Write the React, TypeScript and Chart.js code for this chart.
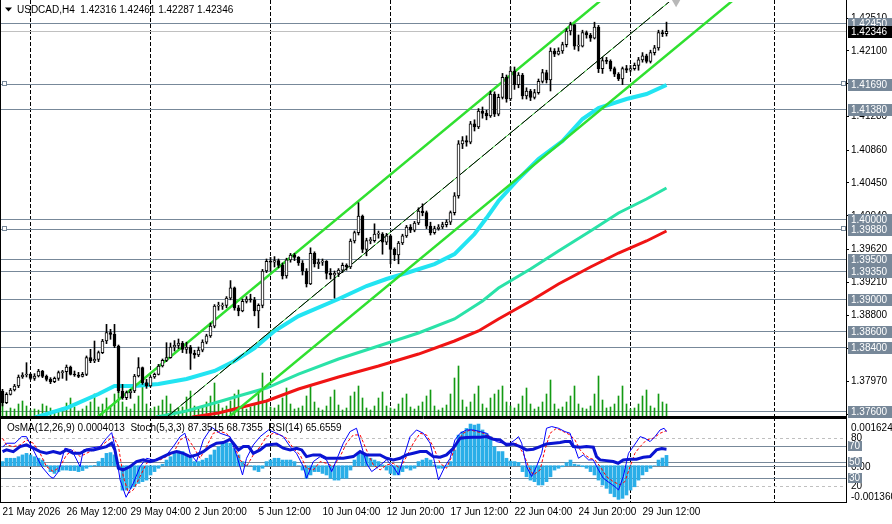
import React, { useEffect, useRef } from 'react';
import { Chart, registerables } from 'chart.js';

Chart.register(...registerables);

const FONT = "'Liberation Sans', Arial, sans-serif";

// ---------- header text ----------
const symbolTitle = 'USDCAD,H4';
const lastOHLC = ['1.42316', '1.42461', '1.42287', '1.42346'];
const oscTitle = 'OsMA(12,26,9) 0.0004013  Stoch(5,3,3) 87.3515 68.7355  RSI(14) 65.6559';

// ---------- price data (H4 bars, bar 0 = 21 May 20:00) ----------
const firstOpen = 1.3785;
const closes = [
  1.37704, 1.37808, 1.37862, 1.37913, 1.38025, 1.3805, 1.38058, 1.38008, 1.38037, 1.381,
  1.38033, 1.37996, 1.37967, 1.38008, 1.38079, 1.38092, 1.3815, 1.38058, 1.3805, 1.38033,
  1.38058, 1.38267, 1.38225, 1.38246, 1.38329, 1.38475, 1.38579, 1.38558, 1.38412, 1.3785,
  1.37767, 1.37829, 1.3785, 1.38037, 1.38142, 1.37954, 1.37913, 1.38025, 1.38058, 1.38162,
  1.38233, 1.38267, 1.384, 1.3842, 1.3845, 1.3837, 1.384, 1.3832, 1.383, 1.3836,
  1.3846, 1.3854, 1.3866, 1.3891, 1.3891, 1.3892, 1.3901, 1.3914, 1.3889, 1.3885,
  1.3897, 1.39, 1.3899, 1.3885, 1.3892, 1.3935, 1.3947, 1.3946, 1.3948, 1.3942,
  1.3929, 1.3949, 1.3955, 1.3952, 1.3945, 1.3935, 1.3919, 1.3957, 1.3944, 1.3946,
  1.3947, 1.3932, 1.393, 1.3932, 1.3936, 1.3942, 1.394, 1.39725, 1.3983, 1.40037,
  1.3962, 1.3973, 1.3973, 1.3981, 1.3981, 1.3971, 1.3979, 1.3962, 1.3955, 1.397,
  1.3979, 1.399, 1.3986, 1.3995, 1.401, 1.4008, 1.3991, 1.3983, 1.3988, 1.399,
  1.3993, 1.3996, 1.4008, 1.4029, 1.4094, 1.4098, 1.4096, 1.4119, 1.4115, 1.4135,
  1.4132, 1.4129, 1.4156, 1.4131, 1.4152, 1.4177, 1.415, 1.4185, 1.4168, 1.418,
  1.4154, 1.416, 1.4152, 1.4158, 1.4172, 1.4183, 1.4174, 1.421, 1.4206, 1.421,
  1.4218, 1.4235, 1.4243, 1.4216, 1.4216, 1.4233, 1.423, 1.4226, 1.424, 1.4188,
  1.4198, 1.4197, 1.4188, 1.4181, 1.4175, 1.4188, 1.4186, 1.4188, 1.4192, 1.4199,
  1.4204, 1.4197, 1.4208, 1.4214, 1.4233, 1.42316, 1.42346,
];
const highs = [
  1.37871, 1.37829, 1.37883, 1.37933, 1.3805, 1.38079, 1.38204, 1.38067, 1.38067, 1.38121,
  1.38108, 1.3805, 1.38017, 1.38025, 1.381, 1.38108, 1.38175, 1.38162, 1.381, 1.38083,
  1.38083, 1.38288, 1.38371, 1.38475, 1.3835, 1.38496, 1.38683, 1.38621, 1.38683, 1.38425,
  1.37933, 1.3785, 1.37871, 1.38058, 1.38267, 1.3815, 1.37996, 1.38037, 1.38075, 1.38183,
  1.3825, 1.38454, 1.3845, 1.3848, 1.385, 1.3847, 1.3846, 1.3842, 1.3836, 1.384,
  1.3849, 1.3856, 1.387, 1.3893, 1.3896, 1.3895, 1.3903, 1.3923, 1.3915, 1.3892,
  1.39, 1.3903, 1.3906, 1.3902, 1.3894, 1.3937, 1.395, 1.3952, 1.3953, 1.395,
  1.3945, 1.3951, 1.3957, 1.3957, 1.3953, 1.3948, 1.3938, 1.3964, 1.3959, 1.395,
  1.395, 1.3948, 1.3938, 1.3935, 1.3938, 1.3945, 1.3944, 1.3975, 1.3985, 1.40204,
  1.4005, 1.3976, 1.3977, 1.3994, 1.3985, 1.3983, 1.3982, 1.398, 1.3964, 1.3972,
  1.3981, 1.3992, 1.3993, 1.3997, 1.4014, 1.4019, 1.401, 1.3996, 1.3991, 1.3993,
  1.3996, 1.3999, 1.401, 1.4033, 1.4098, 1.4103, 1.4104, 1.4122, 1.4124, 1.4138,
  1.414, 1.4136, 1.416, 1.4159, 1.4156, 1.4182, 1.418, 1.419, 1.419, 1.4183,
  1.4182, 1.4164, 1.4162, 1.4162, 1.4175, 1.4187, 1.4186, 1.4214, 1.4213, 1.4214,
  1.4221, 1.4238, 1.4246, 1.424, 1.423, 1.4236, 1.4235, 1.4232, 1.4246, 1.4242,
  1.4202, 1.4202, 1.4199, 1.419, 1.4183, 1.419, 1.4192, 1.4192, 1.4195, 1.4202,
  1.4208, 1.4206, 1.4211, 1.4217, 1.4236, 1.4236, 1.42461,
];
const lows = [
  1.37663, 1.37692, 1.378, 1.3785, 1.37892, 1.38008, 1.38025, 1.37992, 1.37983, 1.38025,
  1.38017, 1.37975, 1.37942, 1.37954, 1.37983, 1.38008, 1.37983, 1.3805, 1.38033, 1.38017,
  1.38025, 1.38042, 1.38204, 1.38204, 1.38217, 1.38317, 1.38442, 1.38496, 1.38392, 1.37829,
  1.37746, 1.37742, 1.37758, 1.37829, 1.38025, 1.37933, 1.37883, 1.379, 1.38008, 1.3805,
  1.3815, 1.38217, 1.3826, 1.3835, 1.3838, 1.3833, 1.3832, 1.3812, 1.3826, 1.3828,
  1.3834, 1.3844, 1.3852, 1.3864, 1.3886, 1.3887, 1.3889, 1.3899, 1.3886, 1.3879,
  1.3884, 1.3895, 1.3896, 1.3879, 1.3864, 1.3889, 1.3933, 1.3935, 1.394, 1.3939,
  1.3925, 1.3926, 1.3946, 1.3948, 1.3942, 1.393, 1.3915, 1.3918, 1.394, 1.3938,
  1.3942, 1.3925, 1.3925, 1.3901, 1.3928, 1.3933, 1.3936, 1.3938, 1.397, 1.398,
  1.3958, 1.3954, 1.3969, 1.3971, 1.3976, 1.3956, 1.3968, 1.3944, 1.3948, 1.3944,
  1.3968, 1.3977, 1.3983, 1.3984, 1.3993, 1.4004, 1.3988, 1.398, 1.3981, 1.3986,
  1.3988, 1.399, 1.3993, 1.4005, 1.4026, 1.4088, 1.4091, 1.4094, 1.411, 1.4113,
  1.4126, 1.4124, 1.4127, 1.4128, 1.4129, 1.415, 1.4146, 1.4148, 1.4162, 1.4164,
  1.415, 1.415, 1.4148, 1.415, 1.4156, 1.417, 1.417, 1.416, 1.4203, 1.4205,
  1.4207, 1.4215, 1.423, 1.4212, 1.421, 1.4215, 1.4226, 1.4222, 1.4225, 1.4183,
  1.4182, 1.4194, 1.4185, 1.4178, 1.4173, 1.4168, 1.4183, 1.4184, 1.4186, 1.4186,
  1.4196, 1.4195, 1.4195, 1.4205, 1.4211, 1.4228, 1.42287,
];
const volumes = [
  14, 5, 8, 7, 12, 15, 10, 6, 7, 6, 12, 10, 8, 5, 6, 8, 13, 18, 9, 5,
  7, 10, 14, 22, 9, 12, 18, 10, 22, 28, 14, 9, 7, 12, 20, 31, 12, 7, 9, 10,
  16, 20, 12, 6, 8, 9, 19, 25, 10, 7, 9, 14, 20, 33, 12, 8, 10, 15, 22, 26,
  10, 7, 9, 12, 24, 43, 14, 9, 8, 11, 18, 28, 12, 7, 8, 10, 20, 31, 14, 8,
  6, 10, 19, 26, 11, 6, 8, 20, 24, 30, 18, 8, 6, 10, 18, 24, 10, 8, 7, 12,
  18, 22, 9, 7, 10, 14, 20, 26, 10, 6, 8, 11, 22, 38, 50, 16, 9, 14, 22, 30,
  12, 8, 18, 22, 26, 30, 14, 10, 8, 12, 20, 28, 12, 7, 9, 14, 22, 36, 12, 7,
  9, 14, 20, 30, 12, 8, 7, 10, 22, 40, 16, 8, 9, 12, 20, 30, 12, 7, 8, 12,
  20, 26, 10, 8, 22, 14, 12,
];

// moving averages: [bar, price]
const cyanMA = [
  [5, 1.3745], [8, 1.37517], [16, 1.37637], [24, 1.37812], [28, 1.37912], [33, 1.37912], [39, 1.37937],
  [46, 1.38], [53, 1.381], [58, 1.38225], [63, 1.38387], [68, 1.386], [74, 1.38787], [84, 1.39],
  [91, 1.39162], [96, 1.3925], [101, 1.39325], [108, 1.39437], [113, 1.39562], [118, 1.39812],
  [121, 1.40012], [124, 1.40225], [129, 1.405], [134, 1.4075], [140, 1.40975], [145, 1.4125],
  [149, 1.41387], [156, 1.415], [161, 1.41562], [166, 1.41675],
];
const tealMA = [
  [36, 1.3745], [38.6, 1.37525], [46, 1.376], [53, 1.377], [59, 1.37787], [66, 1.37887], [74, 1.38062],
  [84, 1.3825], [94, 1.38412], [104, 1.38575], [113, 1.3875], [120, 1.38975], [124, 1.39137],
  [132, 1.39375], [139, 1.396], [147, 1.3985], [154, 1.40075], [161, 1.4025], [166, 1.40387],
];
const redMA = [
  [45, 1.3745], [47.6, 1.37525], [54, 1.37575], [59, 1.37637], [66, 1.37725], [74, 1.37875], [84, 1.38025],
  [94, 1.38162], [104, 1.38312], [113, 1.38475], [119, 1.386], [124, 1.3875], [132, 1.38975],
  [139, 1.39187], [147, 1.394], [154, 1.39575], [161, 1.39725], [166, 1.3985],
];

// channel objects: [bar, price] anchors
const channelUpper = [[20, 1.37368], [155, 1.42957]];
const channelMiddle = [[38, 1.37397], [172, 1.42935]];
const channelLower = [[52, 1.37335], [188, 1.42956]];
const channelMarker = [[168.4, 1.4271]];

// price axis
const priceTicks = [1.4251, 1.421, 1.4169, 1.4128, 1.4086, 1.4045, 1.4004, 1.3962, 1.3921, 1.388, 1.3838, 1.3797, 1.3756];
const levelLines = [1.4245, 1.4169, 1.4138, 1.4, 1.3988, 1.395, 1.3935, 1.39, 1.386, 1.384, 1.376];
const markedLevels = [1.4169, 1.3988];
const bidPrice = 1.42346;

// time axis
const timeTickBars = [0, 16, 32, 48, 64, 80, 96, 112, 128, 144, 160];
const timeLabels = ['21 May 2026', '26 May 12:00', '29 May 04:00', '2 Jun 20:00', '5 Jun 12:00', '10 Jun 04:00',
  '12 Jun 20:00', '17 Jun 12:00', '22 Jun 04:00', '24 Jun 20:00', '29 Jun 12:00'];
const gridBars = [7, 37, 67, 97, 127, 157, 193];

// ---------- oscillators ----------
const osma = [
  0.00016, 0.00029, 0.00029, 0.00029, 0.00035, 0.00042, 0.00048, 0.00042, 0.00035, 0.00029,
  0.00022, 0.00002, -0.00023, -0.0003, -0.00023, -0.00017, -0.00017, -0.00019, -0.00019, -0.00023,
  -0.00019, -0.0001, -0.00004, 0.00001, 0.00016, 0.00029, 0.00048, 0.00051, 0.00042, -0.0001,
  -0.00095, -0.00095, -0.00088, -0.00082, -0.00069, -0.00062, -0.00056, -0.00036, -0.00023, -0.0001,
  0.00006, 0.00022, 0.00035, 0.00048, 0.00058, 0.00055, 0.00042, 0.00029, 0.00016, 0.00016,
  0.00022, 0.00029, 0.00042, 0.00061, 0.00074, 0.00087, 0.0009, 0.00087, 0.00067, 0.00042,
  0.00016, 0.00003, 0.0, -0.00017, -0.00023, -0.0001, 0.00016, 0.00022, 0.00029, 0.00029,
  0.00022, 0.00022, 0.00022, 0.00016, 0.0, -0.00017, -0.00049, -0.00036, -0.00023, -0.00023,
  -0.0003, -0.00036, -0.00049, -0.00056, -0.00056, -0.00049, -0.00049, -0.00017, 0.00022, 0.00051,
  0.00048, 0.00042, 0.00029, 0.00022, 0.00016, 0.00003, -0.00017, -0.0003, -0.00036, -0.00036,
  -0.00023, -0.0001, -0.00017, -0.0001, 0.00016, 0.00022, 0.00029, 0.00022, 0.00003, -0.0001,
  -0.0001, -0.00004, 0.00016, 0.00061, 0.00119, 0.00132, 0.00145, 0.00162, 0.00158, 0.00162,
  0.00139, 0.00126, 0.00113, 0.00074, 0.00055, 0.00055, 0.00029, 0.00018, 0.00016, 0.00013,
  -0.00023, -0.00043, -0.00056, -0.00062, -0.00075, -0.00075, -0.00062, -0.00043, -0.00017, -0.0001,
  -0.00004, 0.00012, 0.00022, 0.00006, 0.00003, -0.00004, -0.0001, -0.00023, -0.00036, -0.00056,
  -0.00075, -0.00088, -0.00108, -0.00121, -0.00131, -0.00127, -0.00114, -0.00095, -0.00082, -0.00056,
  -0.00036, -0.00023, -0.0001, 0.0, 0.00022, 0.0003, 0.0004013,
];
const stochMain = [
  [0, 68], [1, 73], [3.1, 73], [4.8, 81.2], [6, 81.2], [7.7, 64.7], [9.8, 44], [11.9, 31.6], [12.7, 29.5], [14, 37.8],
  [15.6, 66.8], [17.3, 64.7], [19.4, 44], [20.2, 64.7], [21.9, 66.8], [24.4, 68.8], [26, 79.2], [27.3, 86.2], [28.1, 68.8],
  [29.4, 27.4], [30.9, 5.9], [32.7, 23.3], [34.4, 44], [36, 54.3], [37.7, 52.3], [39.4, 54.3], [41, 58.5], [42.7, 68.8],
  [44.4, 81.2], [45.6, 85.4], [46.9, 60.5], [48.5, 50.2], [50.2, 77.1], [52.3, 92.8], [54.4, 85.4], [56.9, 81.2],
  [58.5, 58.5], [60, 33.6], [61, 54.3], [62.7, 70.9], [64.4, 81.2], [66.5, 89.5], [68.5, 85.4], [70.2, 81.2],
  [71.9, 68.8], [73.5, 60.5], [75.2, 44], [76, 29.5], [77.7, 50.2], [79.4, 56.4], [81, 52.3], [82.3, 37.8],
  [83.5, 52.3], [85.2, 73], [86.9, 87.5], [88.5, 91.6], [89.8, 68.8], [91, 48.1], [92.3, 37.8], [94, 44],
  [96, 52.3], [97.7, 44], [99, 33.6], [100.2, 54.3], [101.9, 81.2], [103.5, 89.5], [105.2, 85.4], [106.9, 73],
  [107.7, 56.4], [109, 27.4], [110.6, 44], [111.9, 54.3], [113.1, 77.1], [114.4, 85.4], [116, 89.5], [117.7, 89.5],
  [119.4, 87.5], [121, 85.4], [122.3, 79.2], [123.5, 75], [125.2, 73], [126.9, 73], [128.1, 77.1], [129, 81.2],
  [129.8, 73], [131, 44], [132.3, 31.6], [133.5, 44], [134.8, 60.5], [136, 91.6], [137.3, 93.7], [139, 91.6],
  [140.6, 87.5], [141.9, 85.4], [142.7, 73], [144, 54.3], [145.2, 58.5], [146.5, 52.3], [147.7, 52.3], [149, 39.8],
  [150.2, 29.5], [151.9, 23.3], [153.1, 19.1], [154, 15], [155.2, 31.6], [156.5, 60.5], [157.7, 68.8], [159.4, 81.2],
  [160.6, 79.2], [161.9, 75], [163.1, 81.2], [164.4, 89.5], [165.4, 91.6], [166, 87.35],
];
const stochSignal = [
  [0, 79.2], [1, 70.9], [2.7, 68.8], [4.4, 70.9], [6, 77.1], [7.7, 73], [9.4, 60.5], [11, 44], [12.7, 37.8], [14.4, 44],
  [16, 58.5], [17.7, 64.7], [19.4, 56.4], [21, 60.5], [22.7, 64.7], [24.4, 68.8], [26, 75], [27.7, 81.2], [29, 68.8],
  [30.2, 31.6], [31.5, 10.9], [32.7, 15], [34.4, 31.6], [36, 48.1], [37.7, 52.3], [39.4, 52.3], [41, 56.4], [42.7, 60.5],
  [44.4, 77.1], [46, 81.2], [47.7, 68.8], [49.4, 54.3], [51, 68.8], [52.7, 85.4], [54.4, 87.5], [56, 85.4], [57.7, 73],
  [59.4, 52.3], [61, 44], [62.7, 58.5], [64.4, 68.8], [66, 81.2], [67.7, 85.4], [69.4, 83.3], [71, 79.2], [72.7, 66.8],
  [74.4, 58.5], [76, 41.9], [77.7, 39.8], [79.4, 50.2], [81, 48.1], [82.7, 44], [84.4, 56.4], [86, 73], [87.7, 83.3],
  [89.4, 83.3], [91, 64.7], [92.7, 46], [94.4, 39.8], [96, 46], [97.7, 48.1], [99.4, 41.9], [101, 56.4], [102.7, 73],
  [104.4, 85.4], [106, 83.3], [107.7, 68.8], [109.4, 48.1], [111, 41.9], [112.3, 56.4], [113.5, 73], [115.2, 85.4],
  [116.9, 89.5], [118.5, 87.5], [120.2, 85.4], [121.9, 81.2], [123.5, 77.1], [125.2, 73], [126.9, 70.9], [128.5, 73],
  [130.2, 60.5], [131.5, 44], [132.7, 33.6], [134.4, 39.8], [135.6, 64.7], [136.9, 85.4], [138.5, 91.6], [140.2, 87.5],
  [141.9, 83.3], [143.1, 77.1], [144.4, 64.7], [145.6, 58.5], [146.9, 54.3], [148.1, 52.3], [149.4, 44], [151, 31.6],
  [152.7, 25.3], [154.4, 21.2], [155.6, 25.3], [156.9, 44], [158.1, 60.5], [159.4, 68.8], [161, 77.1], [162.7, 79.2],
  [164.4, 85.4], [166, 88.7],
];
const rsi = [
  [0, 62.6], [1, 64.7], [2.7, 62.6], [4.4, 68.8], [6, 70.9], [7.7, 66.8], [9.4, 62.6], [11, 60.5], [12.7, 62.6],
  [14.4, 60.5], [16, 64.7], [17.7, 60.5], [19.4, 60.5], [21, 64.7], [22.7, 64.7], [24.4, 66.8], [26, 68.8], [27.3, 73],
  [28.1, 64.7], [29, 41.9], [30.2, 39.8], [31.9, 44], [33.5, 50.2], [35.2, 52.3], [36.9, 50.2], [38.5, 52.3],
  [40.2, 56.4], [41.9, 60.5], [43.5, 62.6], [45.2, 60.5], [46.9, 56.4], [48.5, 58.5], [50.2, 62.6], [51.9, 68.8],
  [53.5, 73], [55.2, 73.8], [56.9, 77.9], [57.7, 73], [59, 64.7], [60.2, 68.8], [61.5, 68.8], [62.7, 60.5],
  [64.4, 64.7], [66, 70.9], [68.5, 72.1], [70.2, 66.8], [71.9, 64.7], [73.5, 66.8], [74.8, 64.7], [76, 56.4],
  [77.7, 58.5], [79.4, 58.5], [81, 54.3], [82.7, 54.3], [85.2, 54.3], [87.7, 56.4], [89.4, 62.6], [91, 58.5],
  [92.7, 58.5], [94.4, 58.5], [96, 54.3], [97.7, 52.3], [99.4, 54.3], [101, 58.5], [102.7, 60.5], [104.4, 62.6],
  [106, 62.6], [107.7, 56.4], [109.4, 55.6], [111, 58.5], [112.7, 66.8], [114.4, 79.2], [116, 80], [117.7, 80.4],
  [119.4, 80.4], [121, 81.2], [122.7, 77.9], [124.4, 77.1], [126, 70.9], [127.7, 72.1], [129.4, 68.8], [131, 64.7],
  [132.7, 65.5], [134.4, 68.8], [136, 72.1], [137.7, 73], [139.4, 73.8], [140.6, 75], [141.9, 75], [142.7, 68.8],
  [144.4, 68], [146, 68.8], [147.7, 68], [148.5, 56.4], [149.4, 52.3], [151, 51.4], [152.7, 50.2], [153.9, 48.1],
  [155.2, 52.3], [156.9, 53.1], [158.5, 53.1], [160.2, 55.6], [161.9, 56.4], [163.5, 64.7], [164.8, 66.3], [166, 65.66],
];
const stochLevels = [80, 20];
const rsiLevels = [70, 50, 30];
const osmaMaxLabel = '0.0016241';
const osmaMinLabel = '-0.001360';
const osmaZeroLabel = '0.00';

// ---------- geometry of the scales ----------
const X_MIN = -0.625;
const X_MAX = 210.875;
const Y_MIN = 1.375375;
const Y_MAX = 1.427125;

const LEVEL_COLOR = '#778899';

const pts = (arr: number[][]) => arr.map(([x, y]) => ({ x, y }));

function drawVGrid(chart: any) {
  const { ctx, chartArea, scales } = chart;
  ctx.save();
  ctx.strokeStyle = '#000';
  ctx.lineWidth = 1;
  ctx.setLineDash([4, 2]);
  gridBars.forEach((b) => {
    const x = Math.floor(scales.x.getPixelForValue(b)) + 0.5;
    ctx.beginPath();
    ctx.moveTo(x, chartArea.top - 2);
    ctx.lineTo(x, chartArea.bottom);
    ctx.stroke();
  });
  ctx.restore();
}

const mainPlugin = {
  id: 'mainDecor',
  beforeDatasetsDraw(chart: any) {
    const { ctx, chartArea, scales } = chart;
    drawVGrid(chart);
    ctx.save();
    ctx.lineWidth = 1;
    levelLines.forEach((v) => {
      const y = Math.round(scales.y.getPixelForValue(v)) + 0.5;
      ctx.strokeStyle = LEVEL_COLOR;
      ctx.beginPath();
      ctx.moveTo(0, y);
      ctx.lineTo(chartArea.right, y);
      ctx.stroke();
    });
    const by = Math.round(scales.y.getPixelForValue(bidPrice)) + 0.5;
    ctx.strokeStyle = '#c0c0c0';
    ctx.beginPath();
    ctx.moveTo(0, by);
    ctx.lineTo(chartArea.right, by);
    ctx.stroke();
    ctx.restore();
  },
  afterDraw(chart: any) {
    const { ctx, chartArea, scales } = chart;
    ctx.save();
    // frame
    ctx.strokeStyle = '#000';
    ctx.lineWidth = 1;
    ctx.beginPath();
    ctx.moveTo(0.5, 0);
    ctx.lineTo(0.5, 418);
    ctx.moveTo(chartArea.right + 0.5, 0);
    ctx.lineTo(chartArea.right + 0.5, 418);
    ctx.moveTo(0, chartArea.bottom + 0.5);
    ctx.lineTo(chartArea.right + 1, chartArea.bottom + 0.5);
    ctx.moveTo(0, chartArea.bottom + 1.5);
    ctx.lineTo(chartArea.right + 1, chartArea.bottom + 1.5);
    ctx.stroke();

    // object anchor squares
    markedLevels.forEach((v) => {
      const y = Math.round(scales.y.getPixelForValue(v));
      [2, chartArea.right - 5].forEach((x) => {
        ctx.fillStyle = '#fff';
        ctx.fillRect(x, y - 2, 4, 4);
        ctx.strokeStyle = LEVEL_COLOR;
        ctx.strokeRect(x + 0.5, y - 2.5, 4, 4);
      });
    });

    // price labels
    ctx.font = `10px ${FONT}`;
    ctx.textBaseline = 'middle';
    ctx.textAlign = 'left';
    const box = (v: number, bg: string) => {
      const y = Math.round(scales.y.getPixelForValue(v));
      ctx.fillStyle = bg;
      ctx.fillRect(chartArea.right + 2, y - 5, 892 - chartArea.right - 2, 12);
      ctx.fillStyle = '#fff';
      ctx.fillText(v.toFixed(5), chartArea.right + 5, y + 1.5);
    };
    levelLines.forEach((v) => box(v, LEVEL_COLOR));
    box(bidPrice, '#000');

    // title
    ctx.fillStyle = '#000';
    ctx.beginPath();
    ctx.moveTo(5, 7.5);
    ctx.lineTo(12, 7.5);
    ctx.lineTo(8.5, 11.5);
    ctx.closePath();
    ctx.fill();
    ctx.fillText(`${symbolTitle}  ${lastOHLC.join(' ')}`, 17, 10);
    ctx.restore();
  },
};

const oscPlugin = {
  id: 'oscDecor',
  beforeDatasetsDraw(chart: any) {
    const { ctx, chartArea, scales } = chart;
    drawVGrid(chart);
    ctx.save();
    ctx.lineWidth = 1;
    ctx.strokeStyle = '#c0c0c0';
    ctx.setLineDash([3, 3]);
    stochLevels.forEach((v) => {
      const y = Math.round(scales.yS.getPixelForValue(v)) + 0.5;
      ctx.beginPath();
      ctx.moveTo(0, y);
      ctx.lineTo(chartArea.right, y);
      ctx.stroke();
    });
    ctx.setLineDash([]);
    ctx.strokeStyle = LEVEL_COLOR;
    rsiLevels.forEach((v) => {
      const y = Math.round(scales.yS.getPixelForValue(v)) + 0.5;
      ctx.beginPath();
      ctx.moveTo(0, y);
      ctx.lineTo(chartArea.right, y);
      ctx.stroke();
    });
    const zy = Math.round(scales.yO.getPixelForValue(0)) + 0.5;
    ctx.beginPath();
    ctx.moveTo(0, zy);
    ctx.lineTo(chartArea.right, zy);
    ctx.stroke();
    ctx.restore();
  },
  afterDraw(chart: any) {
    const { ctx, chartArea, scales } = chart;
    ctx.save();
    ctx.strokeStyle = '#000';
    ctx.lineWidth = 1;
    ctx.beginPath();
    ctx.moveTo(0.5, 0);
    ctx.lineTo(0.5, chartArea.bottom + 1);
    ctx.moveTo(chartArea.right + 0.5, 0);
    ctx.lineTo(chartArea.right + 0.5, chartArea.bottom + 1);
    ctx.moveTo(0, 0.5);
    ctx.lineTo(chartArea.right + 1, 0.5);
    ctx.moveTo(0, chartArea.bottom + 0.5);
    ctx.lineTo(chartArea.right + 1, chartArea.bottom + 0.5);
    ctx.stroke();

    ctx.font = `10px ${FONT}`;
    ctx.textBaseline = 'middle';
    ctx.textAlign = 'left';
    const lx = chartArea.right + 5;
    ctx.fillStyle = '#000';
    ctx.fillText(oscTitle, 7, 10.5);
    ctx.fillText(osmaMaxLabel, lx, chartArea.top + 9);
    ctx.fillText(osmaMinLabel, lx, chartArea.bottom - 5);
    stochLevels.forEach((v) => {
      ctx.fillText(String(v), lx, Math.round(scales.yS.getPixelForValue(v)) + 0.5);
    });
    ctx.fillText(osmaZeroLabel, lx, Math.round(scales.yO.getPixelForValue(0)) + 1);
    rsiLevels.forEach((v) => {
      const y = Math.round(scales.yS.getPixelForValue(v));
      ctx.fillStyle = LEVEL_COLOR;
      ctx.fillRect(chartArea.right + 2, y - 5, 14, 10);
      ctx.fillStyle = '#fff';
      ctx.fillText(String(v), chartArea.right + 3, y + 0.5);
    });
    ctx.restore();
  },
};

function mainConfig(): any {
  const idx = closes.map((_, i) => i);
  const opens = closes.map((c, i) => (i === 0 ? firstOpen : closes[i - 1]));
  const line = (data: number[][], color: string, width: number, order: number, extra: any = {}) => ({
    type: 'line', data: pts(data), borderColor: color, borderWidth: width, pointRadius: 0,
    tension: 0, clip: 0, order, yAxisID: 'y', ...extra,
  });
  return {
    type: 'bar',
    data: {
      datasets: [
        {
          type: 'bar', label: 'body', order: 0, yAxisID: 'y', grouped: false,
          data: idx.map((i) => ({ x: i, y: [opens[i], closes[i]] })),
          backgroundColor: idx.map((i) => (closes[i] >= opens[i] ? '#ffffff' : '#000000')),
          borderColor: '#000', borderWidth: 1, borderSkipped: false, barThickness: 3, minBarLength: 1,
        },
        {
          type: 'bar', label: 'wick', order: 1, yAxisID: 'y', grouped: false,
          data: idx.map((i) => ({
            x: i,
            y: [Math.min(lows[i], opens[i], closes[i]), Math.max(highs[i], opens[i], closes[i])],
          })),
          backgroundColor: '#000', borderWidth: 0, barThickness: 1,
        },
        line(channelUpper, '#30e030', 2.5, 2),
        line(channelLower, '#30e030', 2.5, 2),
        line(channelMiddle, '#000000', 1, 2, { borderDash: [14, 3] }),
        line(channelMiddle, '#30d030', 1, 2.5),
        {
          type: 'line', data: pts(channelMarker), showLine: false, pointStyle: 'triangle', rotation: 180,
          pointRadius: 5, pointBackgroundColor: '#b8b8b8', pointBorderColor: '#b8b8b8', pointBorderWidth: 0,
          clip: false, order: 2, yAxisID: 'y',
        },
        line(cyanMA, '#22e4f2', 4, 3),
        line(tealMA, '#2ae2a8', 3, 3),
        line(redMA, '#f01414', 3, 3),
        {
          type: 'bar', label: 'volume', order: 5, yAxisID: 'v', grouped: false,
          data: idx.map((i) => ({ x: i, y: volumes[i] })),
          backgroundColor: '#139a13', barThickness: 1,
        },
      ],
    },
    options: {
      responsive: false, animation: false, devicePixelRatio: 1, events: [],
      layout: { autoPadding: false, padding: { left: 0, right: 0, top: 2, bottom: 2 } },
      plugins: { legend: { display: false }, tooltip: { enabled: false } },
      scales: {
        x: { type: 'linear', min: X_MIN, max: X_MAX, offset: false, display: false },
        y: {
          type: 'linear', position: 'right', min: Y_MIN, max: Y_MAX,
          afterBuildTicks: (s: any) => { s.ticks = priceTicks.map((v) => ({ value: v })); },
          afterFit: (s: any) => { s.width = 46; s.paddingTop = 0; s.paddingBottom = 0; },
          ticks: {
            autoSkip: false, padding: 2, color: '#000', font: { family: FONT, size: 10 },
            callback: (v: any) => Number(v).toFixed(5),
          },
          grid: { drawOnChartArea: false, drawTicks: true, tickLength: 3, color: '#000' },
          border: { display: true, color: '#000' },
        },
        v: { type: 'linear', min: 0, max: 414, display: false },
      },
    },
    plugins: [mainPlugin],
  };
}

function oscConfig(): any {
  const idx = osma.map((_, i) => i);
  return {
    type: 'bar',
    data: {
      datasets: [
        {
          type: 'bar', label: 'OsMA', order: 3, yAxisID: 'yO', grouped: false,
          data: idx.map((i) => ({ x: i, y: osma[i] })),
          backgroundColor: '#2aaee8', barThickness: 3,
        },
        {
          type: 'line', label: 'Signal', order: 2, yAxisID: 'yS', data: pts(stochSignal),
          borderColor: '#ff0000', borderWidth: 1, borderDash: [3, 2], pointRadius: 0, tension: 0, clip: 0,
        },
        {
          type: 'line', label: 'Stoch', order: 1, yAxisID: 'yS', data: pts(stochMain),
          borderColor: '#0000ff', borderWidth: 1, pointRadius: 0, tension: 0, clip: 0,
        },
        {
          type: 'line', label: 'RSI', order: 0, yAxisID: 'yS', data: pts(rsi),
          borderColor: '#0a14d2', borderWidth: 3, pointRadius: 0, tension: 0, clip: 0,
        },
      ],
    },
    options: {
      responsive: false, animation: false, devicePixelRatio: 1, events: [],
      layout: { autoPadding: false, padding: { left: 0, right: 46, top: 1, bottom: 0 } },
      plugins: { legend: { display: false }, tooltip: { enabled: false } },
      scales: {
        x: {
          type: 'linear', min: X_MIN, max: X_MAX, offset: false, position: 'bottom',
          afterBuildTicks: (s: any) => { s.ticks = timeTickBars.map((v) => ({ value: v })); },
          afterFit: (s: any) => { s.height = 22; s.paddingLeft = 0; s.paddingRight = 0; },
          ticks: {
            autoSkip: false, maxRotation: 0, minRotation: 0, align: 'start', padding: 4,
            color: '#000', font: { family: FONT, size: 10 },
            callback: (v: any) => timeLabels[timeTickBars.indexOf(Number(v))] ?? '',
          },
          grid: { display: false, drawTicks: false },
          border: { display: false },
        },
        yS: { type: 'linear', min: 0, max: 103.1, display: false },
        yO: { type: 'linear', min: -0.001412, max: 0.001817, display: false },
      },
    },
    plugins: [oscPlugin],
  };
}

export default function App() {
  const mainRef = useRef<HTMLCanvasElement>(null);
  const oscRef = useRef<HTMLCanvasElement>(null);
  useEffect(() => {
    const main = new Chart(mainRef.current as HTMLCanvasElement, mainConfig());
    const osc = new Chart(oscRef.current as HTMLCanvasElement, oscConfig());
    return () => {
      main.destroy();
      osc.destroy();
    };
  }, []);
  return (
    <div style={{ position: 'fixed', left: 0, top: 0, width: 892, height: 524, background: '#fff', overflow: 'hidden' }}>
      <canvas ref={mainRef} width={892} height={418}
        style={{ position: 'absolute', left: 0, top: 0, width: 892, height: 418 }} />
      <canvas ref={oscRef} width={892} height={106}
        style={{ position: 'absolute', left: 0, top: 418, width: 892, height: 106 }} />
    </div>
  );
}
